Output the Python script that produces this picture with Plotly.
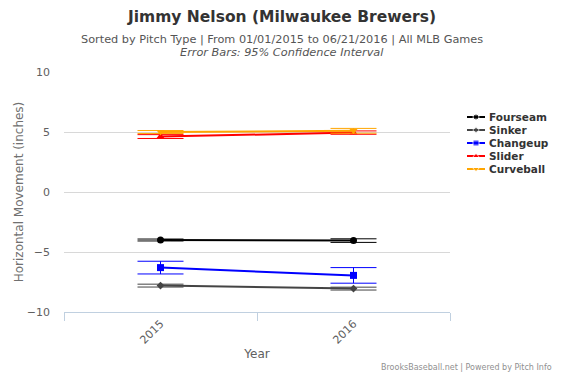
import plotly.graph_objects as go

years = ["2015", "2016"]
pitch_names = ["Fourseam", "Sinker", "Changeup", "Slider", "Curveball"]
fourseam = [-4.0, -4.05]
fourseam_err = [0.08, 0.15]
sinker = [-7.8, -8.05]
sinker_err = [0.12, 0.12]
changeup = [-6.3, -6.95]
changeup_err = [0.53, 0.65]
slider = [4.62, 4.95]
slider_err = [0.16, 0.14]
curveball = [5.0, 5.1]
curveball_err = [0.12, 0.2]

values = [fourseam, sinker, changeup, slider, curveball]
errors = [fourseam_err, sinker_err, changeup_err, slider_err, curveball_err]
colors = ["#000000", "#444444", "#0000FF", "#FF0000", "#FFA500"]
symbols = ["circle", "diamond", "square", "triangle-up", "triangle-down"]
sizes = [7, 6, 7, 7, 7]

W, H = 563, 375
ML, MT, MB = 64, 72, 63
PLOT_RIGHT = 450
PW = W - ML          # paper width (right margin 0)
PH = H - MT - MB     # paper height


def px_x(px):
    return (px - ML) / PW


def px_y(py):
    return (H - MB - py) / PH


fig = go.Figure()
for name, v, e, c, s, sz in zip(pitch_names, values, errors, colors, symbols, sizes):
    fig.add_trace(go.Scatter(
        x=years, y=v, name=name, mode="lines+markers",
        line=dict(color=c, width=2),
        marker=dict(color=c, symbol=s, size=sz),
        error_y=dict(type="data", array=e, visible=True, color=c, thickness=1, width=23),
        showlegend=False, xaxis="x", yaxis="y",
    ))

# manual legend (compact, like the original)
for i, (name, c, s, sz) in enumerate(zip(pitch_names, colors, symbols, sizes)):
    fig.add_trace(go.Scatter(
        x=[0, 0.5, 1], y=[i, i, i], mode="lines+markers",
        line=dict(color=c, width=2),
        marker=dict(color=c, symbol=s, size=[0, sz - 1, 0]),
        showlegend=False, hoverinfo="skip", xaxis="x2", yaxis="y2",
    ))
    fig.add_annotation(
        text="<b>" + name + "</b>", xref="paper", yref="y2", x=px_x(487), y=i,
        xanchor="left", yanchor="middle", showarrow=False,
        font=dict(size=10.5, color="#333333"),
    )

font_family = "DejaVu Sans, Open Sans, sans-serif"
fig.update_layout(
    width=W, height=H,
    margin=dict(l=ML, r=0, t=MT, b=MB),
    paper_bgcolor="white", plot_bgcolor="white",
    font=dict(family=font_family, color="#606060", size=11),
    title=dict(
        text="<b>Jimmy Nelson (Milwaukee Brewers)</b>",
        x=282 / W, xanchor="center", y=1 - 11 / H, yanchor="top",
        font=dict(size=15.5, color="#333333", family=font_family),
    ),
    showlegend=False,
    xaxis=dict(
        domain=[0, px_x(PLOT_RIGHT)],
        type="category", range=[-0.5, 1.5], tickson="boundaries",
        showgrid=False, showline=True, linecolor="#C0D0E0", linewidth=1,
        ticks="outside", ticklen=8, tickcolor="#C0D0E0",
        tickangle=-45, tickfont=dict(size=11, color="#606060"),
        title=dict(text="Year", font=dict(size=12, color="#606060"), standoff=4),
        zeroline=False, automargin=False,
    ),
    yaxis=dict(
        range=[-10, 10], tickvals=[-10, -5, 0, 5, 10],
        showgrid=True, gridcolor="#D8D8D8", gridwidth=1,
        zeroline=False, showline=False, ticks="",
        tickfont=dict(size=11, color="#606060"), ticklabelstandoff=13,
        title=dict(text="Horizontal Movement (inches)", font=dict(size=12, color="#707070"), standoff=0),
        automargin=False,
    ),
    xaxis2=dict(
        domain=[px_x(467), px_x(485)], range=[0, 1], visible=False,
        anchor="y2", fixedrange=True,
    ),
    yaxis2=dict(
        domain=[px_y(175.5), px_y(110.5)], range=[4.5, -0.5], visible=False,
        anchor="x2", fixedrange=True,
    ),
)

fig.add_annotation(
    text="Sorted by Pitch Type | From 01/01/2015 to 06/21/2016 | All MLB Games",
    xref="paper", yref="paper", x=px_x(282), y=px_y(39), xanchor="center", yanchor="middle",
    showarrow=False, font=dict(size=11.3, color="#555555"),
)
fig.add_annotation(
    text="<i>Error Bars: 95% Confidence Interval</i>",
    xref="paper", yref="paper", x=px_x(282), y=px_y(52.5), xanchor="center", yanchor="middle",
    showarrow=False, font=dict(size=11.3, color="#555555"),
)
fig.add_annotation(
    text="BrooksBaseball.net | Powered by Pitch Info",
    xref="paper", yref="paper", x=px_x(554), y=px_y(367), xanchor="right", yanchor="middle",
    showarrow=False, font=dict(size=8, color="#909090"),
)

fig.write_html(
    "out.html",
    config={"displayModeBar": False},
    post_script="document.body.style.margin='0';",
)
